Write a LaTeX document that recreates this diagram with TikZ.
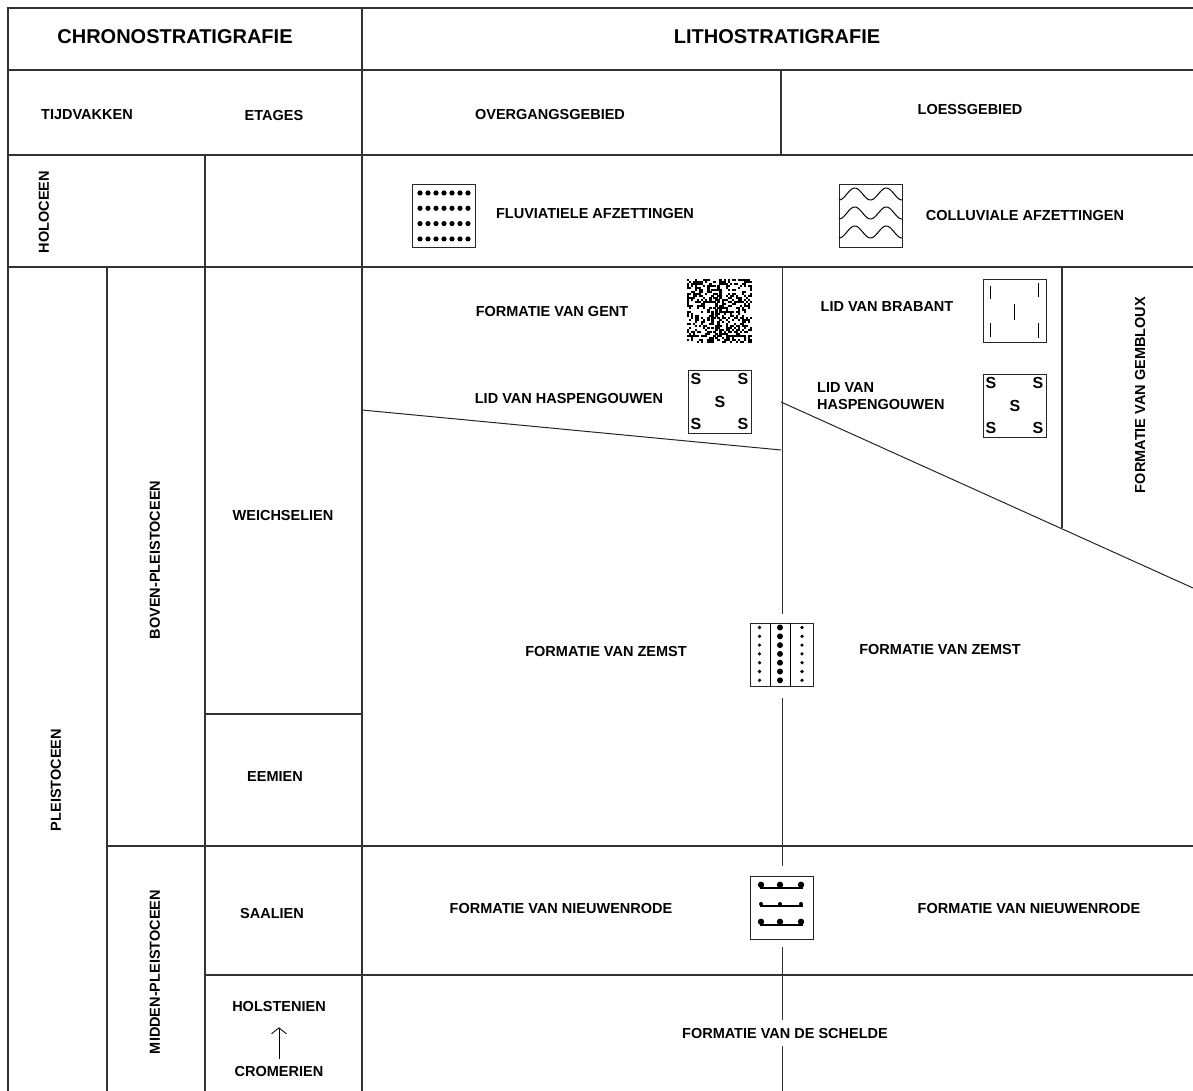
\documentclass[tikz,border=0pt]{standalone}
\usepackage{fontspec}
\setmainfont{Liberation Sans}
\usetikzlibrary{arrows.meta}
\begin{document}
\begin{tikzpicture}[x=1pt,y=-1pt,
  grid/.style={line width=1.2pt,draw=black!80},
  thin/.style={line width=1pt,draw=black!85},
  lbl/.style={font=\bfseries\fontsize{14.5}{17}\selectfont,inner sep=0pt},
  hdr/.style={font=\bfseries\fontsize{20}{22}\selectfont,inner sep=0pt},
  symbox/.style={draw=black!85,line width=1.2pt,minimum width=63pt,minimum height=63pt,inner sep=0pt,anchor=north west},
  sletter/.style={font=\bfseries\fontsize{16}{16}\selectfont,inner sep=0pt},
  ]
\useasboundingbox (0,0) rectangle (1193,1091);
\fill[white] (0,0) rectangle (1193,1091);

% ---- grid ----
\draw[grid] (8,1091) -- (8,8) -- (1193,8);
\draw[grid] (8,70) -- (1193,70);
\draw[grid] (8,155) -- (1193,155);
\draw[grid] (8,267) -- (1193,267);
\draw[grid] (362,8) -- (362,1091);
\draw[grid] (205,155) -- (205,1091);
\draw[grid] (107,267) -- (107,1091);
\draw[grid] (205,714) -- (362,714);
\draw[grid] (107,846) -- (1193,846);
\draw[grid] (205,975) -- (1193,975);
\draw[grid] (781,70) -- (781,155);
\draw[grid] (1062,267) -- (1062,528);
\draw[thin] (362,410) -- (781,450);
\draw[thin] (781,402) -- (1193,588);

% ---- headers ----
\node[hdr] (chrono) at (175,37) {CHRONOSTRATIGRAFIE};
\node[hdr] (litho) at (777,37) {LITHOSTRATIGRAFIE};
\node[lbl] (tijd) at (87,115) {TIJDVAKKEN};
\node[lbl] (etag) at (274,116) {ETAGES};
\node[lbl] (overg) at (550,115) {OVERGANGSGEBIED};
\node[lbl] (loess) at (970,110) {LOESSGEBIED};

% ---- chrono labels ----
\node[lbl,rotate=90] (holo) at (44,212) {HOLOCEEN};
\node[lbl,rotate=90] (boven) at (155,560) {BOVEN-PLEISTOCEEN};
\node[lbl] (weich) at (283,516) {WEICHSELIEN};
\node[lbl,rotate=90] (pleis) at (56,780) {PLEISTOCEEN};
\node[lbl] (eem) at (275,777) {EEMIEN};
\node[lbl] (saal) at (272,913) {SAALIEN};
\node[lbl,rotate=90] (midden) at (155,972) {MIDDEN-PLEISTOCEEN};
\node[lbl] (holst) at (279,1006) {HOLSTENIEN};
\node[lbl] (crom) at (279,1071) {CROMERIEN};
\draw[line width=0.8pt,-{Straight Barb[length=6pt,width=15pt]},shorten <=7pt,shorten >=16pt] (crom.north) -- (holst.south);

% ---- litho labels ----
\node[lbl] (fluvt) at (595,214) {FLUVIATIELE AFZETTINGEN};
\node[lbl] (colt) at (1025,216) {COLLUVIALE AFZETTINGEN};
\node[lbl] (gentt) at (552,312) {FORMATIE VAN GENT};
\node[lbl] (brabt) at (887,307) {LID VAN BRABANT};
\node[lbl] (hasl) at (569,399) {LID VAN HASPENGOUWEN};
\node[lbl,align=left,anchor=west] (hasr) at (817,396) {LID VAN\\HASPENGOUWEN};
\node[lbl,rotate=90] (gemb) at (1140,395) {FORMATIE VAN GEMBLOUX};
\node[lbl] (zeml) at (606,652) {FORMATIE VAN ZEMST};
\node[lbl] (zemr) at (940,650) {FORMATIE VAN ZEMST};
\node[lbl] (nieul) at (561,908) {FORMATIE VAN NIEUWENRODE};
\node[lbl] (nieur) at (1029,908) {FORMATIE VAN NIEUWENRODE};
\node[lbl] (schel) at (785,1033) {FORMATIE VAN DE SCHELDE};

% ---- symbol boxes ----
\node[symbox] (fluv) at (412,184) {};
\begin{scope}[shift={(fluv.north west)}]
  \foreach \r in {0,...,3}{\foreach \c in {0,...,6}{
    \fill (8+\c*8,9+\r*15.3) circle (2.6pt);}}
\end{scope}

\node[symbox] (coll) at (839,184) {};
\begin{scope}[shift={(coll.north west)}]
  \foreach \k in {0,1,2}{
    \draw[line width=1pt] plot[domain=0:63,samples=60,smooth] (\x,{16+19*\k-6*(1-cos(\x*11.4286))});}
\end{scope}

\node[minimum width=65pt,minimum height=64pt,inner sep=0pt,anchor=north west] (gent) at (687,279) {};
\begin{scope}[shift={(gent.north west)}]
  \pgfmathsetseed{4242}
  \foreach \i in {0,...,31}{\foreach \j in {0,...,31}{
    \pgfmathsetmacro\rr{rnd}
    \ifdim\rr pt<0.42pt \fill (\i*2.03,\j*2) rectangle ++(2.2,2.1);\fi}}
\end{scope}

\node[symbox] (brab) at (983,279) {};
\begin{scope}[shift={(brab.north west)},line width=1pt]
  \draw (7,7) -- (7,20);
  \draw (55,4) -- (55,18);
  \draw (31,25) -- (31,41);
  \draw (7,44) -- (7,58);
  \draw (55,44) -- (55,59);
\end{scope}

\node[symbox] (hasbl) at (688,370) {};
\begin{scope}[shift={(hasbl.north west)}]
  \node[sletter] (hl1) at (8,9) {S};
  \node[sletter] (hl2) at (55,9) {S};
  \node[sletter] (hl3) at (32,32) {S};
  \node[sletter] (hl4) at (8,54) {S};
  \node[sletter] (hl5) at (55,54) {S};
\end{scope}

\node[symbox] (hasbr) at (983,374) {};
\begin{scope}[shift={(hasbr.north west)}]
  \node[sletter] (hr1) at (8,9) {S};
  \node[sletter] (hr2) at (55,9) {S};
  \node[sletter] (hr3) at (32,32) {S};
  \node[sletter] (hr4) at (8,54) {S};
  \node[sletter] (hr5) at (55,54) {S};
\end{scope}

\node[symbox] (zemst) at (750,623) {};
\begin{scope}[shift={(zemst.north west)}]
  \draw[line width=1pt] (20,0) -- (20,63);
  \draw[line width=1pt] (40,0) -- (40,63);
  \foreach \i in {0,...,6}{
    \fill (9.5,4.5+\i*8.8) circle (1.8pt);
    \fill (30,4.5+\i*8.8) circle (3pt);
    \fill (52,4.5+\i*8.8) circle (1.8pt);}
\end{scope}

\node[symbox] (nieu) at (750,876) {};
\begin{scope}[shift={(nieu.north west)}]
  \foreach \ly/\rd in {12/3.2, 30/2, 49/3.2}{
    \draw[line width=1.1pt] (10,\ly) -- (53,\ly);
    \foreach \dx in {11,30,51}{\fill (\dx,\ly-\rd) circle (\rd pt);}}
\end{scope}

% ---- central vertical divider ----
\draw[grid] (zemst.north |- 0,267) -- ([yshift=9pt]zemst.north);
\draw[grid] ([yshift=-11pt]zemst.south) -- ([yshift=10pt]nieu.north);
\draw[grid] ([yshift=-7pt]nieu.south) -- ([yshift=8pt]zemst.north |- schel.north);
\draw[grid] ([yshift=-8pt]zemst.north |- schel.south) -- (zemst.north |- 0,1091);
\end{tikzpicture}
\end{document}
